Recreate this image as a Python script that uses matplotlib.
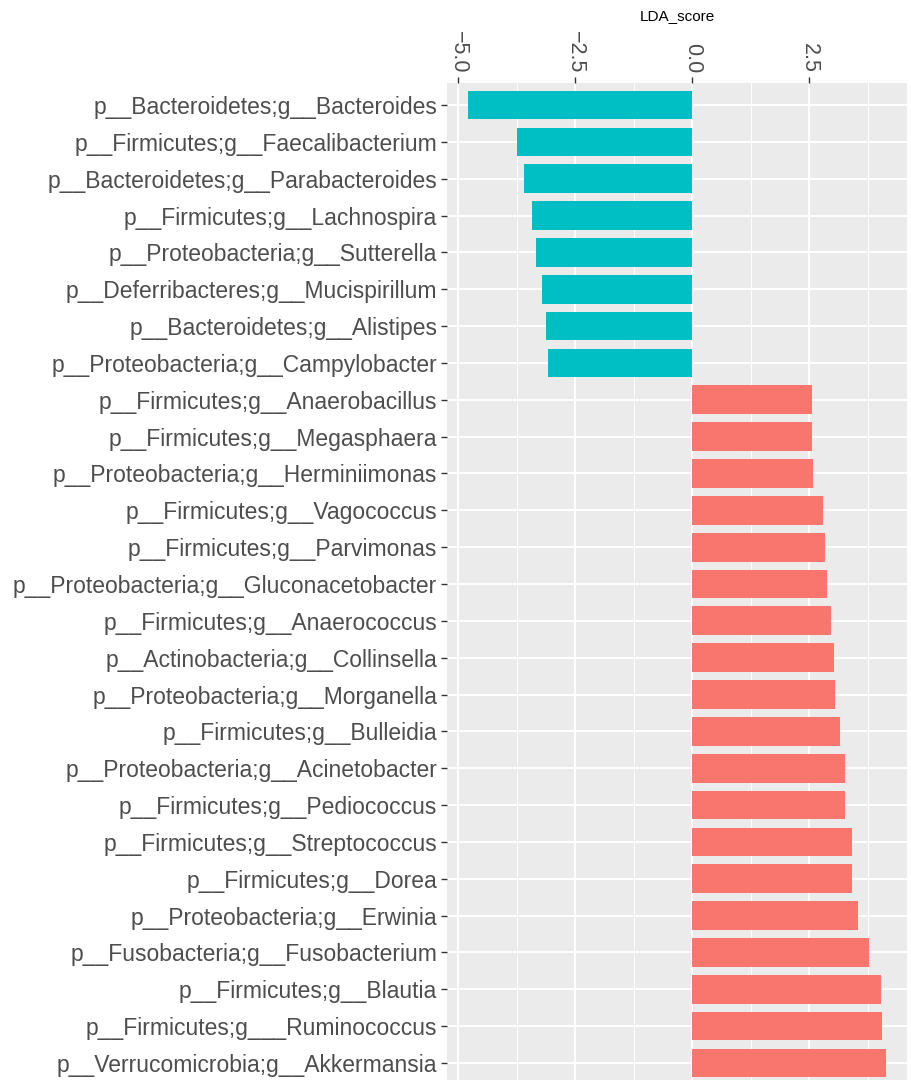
import matplotlib
matplotlib.use("Agg")
import matplotlib.pyplot as plt
from matplotlib.ticker import MultipleLocator

plt.rcParams['font.family'] = ['Liberation Sans', 'DejaVu Sans']

taxa = ["p__Bacteroidetes;g__Bacteroides", "p__Firmicutes;g__Faecalibacterium",
        "p__Bacteroidetes;g__Parabacteroides", "p__Firmicutes;g__Lachnospira",
        "p__Proteobacteria;g__Sutterella", "p__Deferribacteres;g__Mucispirillum",
        "p__Bacteroidetes;g__Alistipes", "p__Proteobacteria;g__Campylobacter",
        "p__Firmicutes;g__Anaerobacillus", "p__Firmicutes;g__Megasphaera",
        "p__Proteobacteria;g__Herminiimonas", "p__Firmicutes;g__Vagococcus",
        "p__Firmicutes;g__Parvimonas", "p__Proteobacteria;g__Gluconacetobacter",
        "p__Firmicutes;g__Anaerococcus", "p__Actinobacteria;g__Collinsella",
        "p__Proteobacteria;g__Morganella", "p__Firmicutes;g__Bulleidia",
        "p__Proteobacteria;g__Acinetobacter", "p__Firmicutes;g__Pediococcus",
        "p__Firmicutes;g__Streptococcus", "p__Firmicutes;g__Dorea",
        "p__Proteobacteria;g__Erwinia", "p__Fusobacteria;g__Fusobacterium",
        "p__Firmicutes;g__Blautia", "p__Firmicutes;g___Ruminococcus",
        "p__Verrucomicrobia;g__Akkermansia"]
lda_score = [-4.79, -3.75, -3.60, -3.43, -3.33, -3.22, -3.12, -3.09,
             2.55, 2.57, 2.58, 2.79, 2.83, 2.87, 2.96, 3.04, 3.05,
             3.16, 3.26, 3.27, 3.42, 3.42, 3.54, 3.77, 4.03, 4.05, 4.14]
x_ticks = [-5.0, -2.5, 0.0, 2.5]
x_tick_labels = ['\u22125.0', '\u22122.5', '0.0', '2.5']

fig = plt.figure(figsize=(9.12, 10.8), dpi=100)
ax = fig.add_axes([447 / 912, -5 / 1080, (907 - 447) / 912, (1085 - 83) / 1080])

colors = ['#00BFC4' if v < 0 else '#F8766D' for v in lda_score]
ypos = list(range(len(taxa)))
ax.barh(ypos, lda_score, height=0.78, color=colors, zorder=3)

ax.set_facecolor('#EBEBEB')
ax.set_xlim(-5.24, 4.59)
ax.set_ylim(len(taxa) - 0.4, -0.6)
ax.set_yticks(ypos)
ax.set_yticklabels(taxa)
ax.set_xticks(x_ticks)
ax.set_xticklabels(x_tick_labels)
ax.xaxis.set_minor_locator(MultipleLocator(1.25))
ax.grid(which='major', color='white', lw=1.4, zorder=0)
ax.grid(which='minor', axis='x', color='white', lw=0.7, zorder=0)
ax.xaxis.tick_top()
ax.xaxis.set_label_position('top')
ax.tick_params(axis='x', which='minor', length=0)
ax.tick_params(axis='both', which='major', length=4, color='#333333', width=1,
               labelcolor='#4D4D4D', pad=3)
ax.tick_params(axis='y', labelsize=16.5)
ax.tick_params(axis='x', labelsize=15.5)
for lab in ax.get_xticklabels():
    lab.set_rotation(270)
for s in ax.spines.values():
    s.set_visible(False)
ax.set_xlabel('LDA_score', fontsize=11, labelpad=8)

fig.savefig('out.png', dpi=100)
